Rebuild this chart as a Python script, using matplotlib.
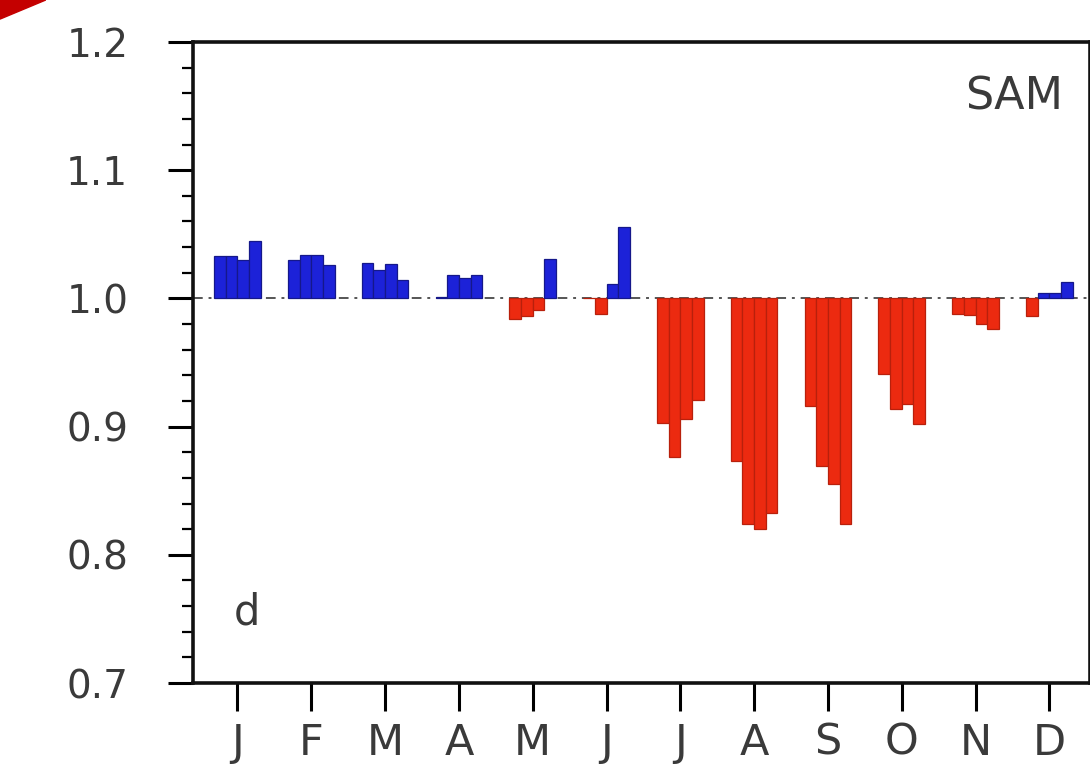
import matplotlib.pyplot as plt
import numpy as np
from matplotlib.patches import Polygon
from matplotlib.ticker import MultipleLocator

months = ["J", "F", "M", "A", "M", "J", "J", "A", "S", "O", "N", "D"]

# four bars per month, values relative to 1.0
bar_1 = [1.033, 1.030, 1.028, 1.001, 0.984, 1.000, 0.903, 0.873, 0.916, 0.941, 0.988, 0.986]
bar_2 = [1.033, 1.034, 1.022, 1.018, 0.986, 0.988, 0.876, 0.824, 0.869, 0.914, 0.987, 1.004]
bar_3 = [1.030, 1.034, 1.027, 1.016, 0.991, 1.011, 0.906, 0.820, 0.855, 0.918, 0.980, 1.004]
bar_4 = [1.045, 1.026, 1.014, 1.018, 1.031, 1.056, 0.921, 0.833, 0.824, 0.902, 0.976, 1.013]

baseline = 1.0
blue, blue_edge = "#1c22d8", "#15188a"
red, red_edge = "#ec2a10", "#b8200c"

fig = plt.figure(figsize=(10.9, 7.64), dpi=100)
ax = fig.add_axes([0.1775, 0.106, 0.8225, 0.839])

x = np.arange(len(months))
width = 0.158
series = [bar_1, bar_2, bar_3, bar_4]
ax.axhline(baseline, color="#555555", lw=1.4, ls=(0, (5, 3, 1.5, 3)), zorder=1)
for i, vals in enumerate(series):
    vals = np.asarray(vals)
    colors = [blue if v > baseline else red for v in vals]
    edges = [blue_edge if v > baseline else red_edge for v in vals]
    ax.bar(x + (i - 1.5) * width, vals - baseline, width, bottom=baseline,
           color=colors, edgecolor=edges, linewidth=0.9, zorder=2)

ax.set_xlim(-0.596, 11.55)
ax.set_ylim(0.7, 1.2)
ax.set_xticks(x)
ax.set_xticklabels(months)
ax.yaxis.set_major_locator(MultipleLocator(0.1))
ax.yaxis.set_minor_locator(MultipleLocator(0.02))
ax.set_yticklabels([f"{v:.1f}" for v in ax.get_yticks()])

font = ["DejaVu Sans"]
for lab in ax.get_yticklabels():
    lab.set_family(font)
    lab.set_fontsize(28)
    lab.set_color("#3a3a3a")
for lab in ax.get_xticklabels():
    lab.set_family(font)
    lab.set_fontsize(31)
    lab.set_color("#3a3a3a")

ax.tick_params(axis="y", which="major", length=18, width=2.2, pad=29, direction="out")
ax.tick_params(axis="y", which="minor", length=8, width=1.6, direction="out")
ax.tick_params(axis="x", which="major", length=20, width=2.2, pad=8, direction="out")
for side in ["left", "bottom", "top", "right"]:
    ax.spines[side].set_linewidth(2.6)
    ax.spines[side].set_color("#111111")

ax.text(0.97, 0.915, "SAM", transform=ax.transAxes, ha="right", va="center",
        fontsize=32, family=font, color="#3a3a3a")
ax.text(0.06, 0.11, "d", transform=ax.transAxes, ha="center", va="center",
        fontsize=30, family=font, color="#3a3a3a")

# arrow tip fragment in the top-left corner
fig.patches.append(Polygon([[0.0, 1.0], [0.042, 1.0], [0.0, 0.975]], closed=True,
                           transform=fig.transFigure, color="#c40000"))

fig.savefig("out.png", dpi=100)
